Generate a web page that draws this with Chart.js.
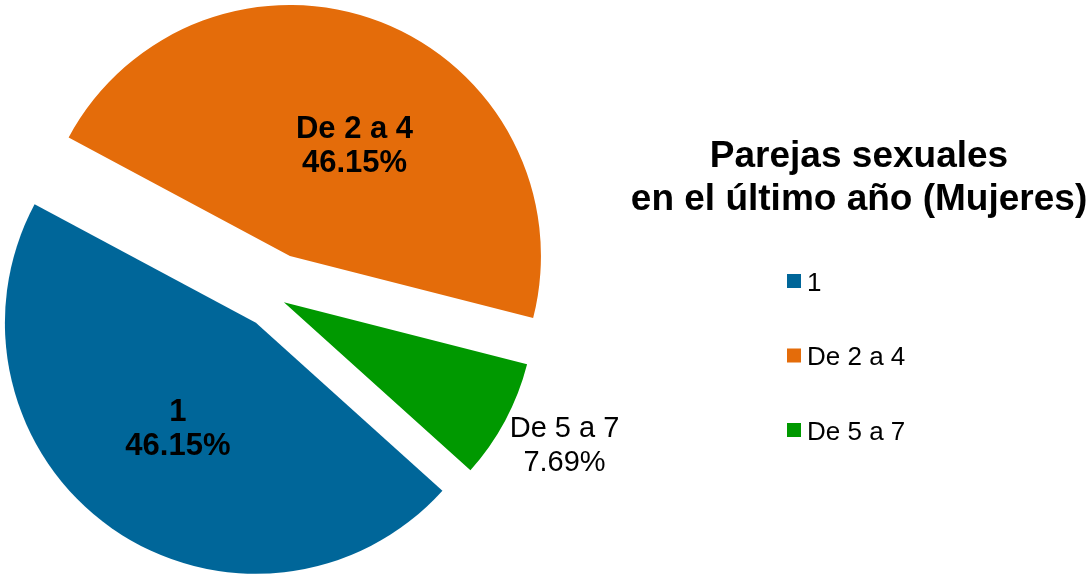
<!DOCTYPE html>
<html>
<head>
<meta charset="utf-8">
<script src="https://cdn.jsdelivr.net/npm/chart.js@4/dist/chart.umd.min.js"></script>
<style>
  html, body { margin: 0; padding: 0; background: #fff; }
  #wrap { width: 1091px; height: 577px; }
</style>
</head>
<body>
<div id="wrap"><canvas id="pieChart" width="1091" height="577"></canvas></div>
<script>
// Datos
const categories = ['1', 'De 2 a 4', 'De 5 a 7'];
const percentages = [46.15, 46.15, 7.69];
const titleLines = ['Parejas sexuales', 'en el último año (Mujeres)'];

const colors = ['#006699', '#E46C0A', '#009900'];
const fontFamily = "'Liberation Sans', Arial, sans-serif";

// separa cada porción del centro (como "explosión" de Excel)
const explodePlugin = {
    id: 'explode',
    afterDatasetUpdate(chart, args, opts) {
        args.meta.data.forEach((arc, i) => {
            const d = opts.distances[i] || 0;
            const mid = (arc.startAngle + arc.endAngle) / 2;
            arc.x += Math.cos(mid) * d;
            arc.y += Math.sin(mid) * d;
        });
    }
};

// etiquetas de datos: nombre + porcentaje
const sliceLabels = {
    id: 'sliceLabels',
    afterDatasetsDraw(chart, args, opts) {
        const ctx = chart.ctx;
        const meta = chart.getDatasetMeta(0);
        ctx.save();
        ctx.fillStyle = '#000';
        ctx.textAlign = 'center';
        ctx.textBaseline = 'alphabetic';
        meta.data.forEach((arc, i) => {
            const p = opts.placement[i];
            const ang = (arc.startAngle + arc.endAngle) / 2 + p.da * Math.PI / 180;
            const cx = arc.x + Math.cos(ang) * p.r * arc.outerRadius;
            const cy = arc.y + Math.sin(ang) * p.r * arc.outerRadius;
            const lines = [chart.data.labels[i], percentages[i].toFixed(2) + '%'];
            ctx.font = (p.bold ? 'bold ' : '') + p.size + 'px ' + fontFamily;
            const cap = p.size * 0.716;
            const base1 = cy - p.lineH / 2 + cap / 2;
            lines.forEach((t, k) => ctx.fillText(t, cx, base1 + k * p.lineH));
        });
        ctx.restore();
    }
};

// título y leyenda a la derecha
const sideLegend = {
    id: 'sideLegend',
    afterDraw(chart, args, opts) {
        const ctx = chart.ctx;
        const ds = chart.data.datasets[0];
        ctx.save();
        ctx.fillStyle = '#000';
        ctx.textAlign = 'center';
        ctx.textBaseline = 'alphabetic';
        ctx.font = 'bold ' + opts.titleSize + 'px ' + fontFamily;
        titleLines.forEach((t, k) => ctx.fillText(t, opts.titleX, opts.titleY + k * opts.titleLineH));

        ctx.textAlign = 'left';
        ctx.font = opts.labelSize + 'px ' + fontFamily;
        chart.data.labels.forEach((lab, i) => {
            const yc = opts.itemY + i * opts.itemGap;
            ctx.fillStyle = ds.backgroundColor[i];
            ctx.fillRect(opts.boxX, yc - opts.box / 2, opts.box, opts.box);
            ctx.fillStyle = '#000';
            ctx.fillText(lab, opts.textX, yc + 9.5);
        });
        ctx.restore();
    }
};

const ctx = document.getElementById('pieChart').getContext('2d');

new Chart(ctx, {
    type: 'pie',
    data: {
        labels: categories,
        datasets: [{
            data: percentages,
            backgroundColor: colors,
            borderWidth: 0,
            clip: false
        }]
    },
    options: {
        responsive: false,
        devicePixelRatio: 1,
        animation: false,
        rotation: 132,
        radius: 251,
        layout: {
            padding: { left: 0, right: 543, top: 17, bottom: 0 }
        },
        plugins: {
            legend: { display: false },
            title: { display: false },
            tooltip: { enabled: false },
            explode: { distances: [31.5, 44, 11.2] },
            sliceLabels: {
                placement: [
                    { r: 0.519, da: 1.7, size: 31, bold: true, lineH: 34 },
                    { r: 0.517, da: 8.6, size: 31, bold: true, lineH: 34 },
                    { r: 1.251, da: -1.5, size: 29, bold: false, lineH: 34 }
                ]
            },
            sideLegend: {
                titleSize: 37, titleX: 859, titleY: 167, titleLineH: 42.5,
                labelSize: 26, boxX: 787, box: 14, textX: 807,
                itemY: 281, itemGap: 74.5
            }
        }
    },
    plugins: [explodePlugin, sliceLabels, sideLegend]
});
</script>
</body>
</html>
